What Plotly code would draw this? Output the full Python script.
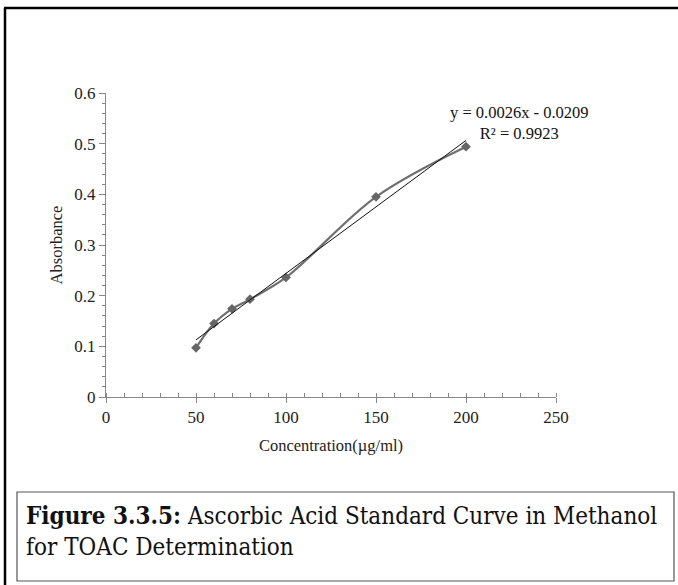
import numpy as np
import plotly.graph_objects as go

conc = [50, 60, 70, 80, 100, 150, 200]
absorb = [0.097, 0.145, 0.174, 0.193, 0.236, 0.395, 0.494]
eq_text = "y = 0.0026x - 0.0209<br>R² = 0.9923"
x_title = "Concentration(µg/ml)"
y_title = "Absorbance"
caption = "<b>Figure 3.3.5:</b> Ascorbic Acid Standard Curve in Methanol<br>for TOAC Determination"

W, H = 678, 585
L, R, T, B = 106, 556, 93, 397

def px(x):
    return (x - L) / (R - L)

def py(y):
    return (B - y) / (B - T)

slope, intercept = np.polyfit(conc, absorb, 1)
fit_x = [min(conc), max(conc)]
fit_y = [slope * v + intercept for v in fit_x]

fig = go.Figure()
fig.add_trace(go.Scatter(
    x=conc, y=absorb, mode="lines+markers",
    line=dict(color="#6f6f6f", width=2.2, shape="spline", smoothing=1.0),
    marker=dict(symbol="diamond", size=7.5, color="#666666"),
    showlegend=False, hoverinfo="skip"))
fig.add_trace(go.Scatter(
    x=fit_x, y=fit_y, mode="lines",
    line=dict(color="#111111", width=1),
    showlegend=False, hoverinfo="skip"))

font_serif = "Liberation Serif, Times New Roman, serif"

fig.update_layout(
    width=W, height=H,
    margin=dict(l=L, r=W - R, t=T, b=H - B),
    paper_bgcolor="white", plot_bgcolor="white",
    font=dict(family=font_serif, size=16, color="#222"),
    xaxis=dict(range=[0, 250], tickvals=[0, 50, 100, 150, 200, 250],
               showgrid=False, zeroline=False, showline=True,
               linecolor="#888", linewidth=1, ticks="outside", ticklen=5,
               tickcolor="#888",
               minor=dict(dtick=10, ticks="inside", ticklen=4, tickcolor="#888", showgrid=False),
               title=dict(text=x_title, font=dict(size=16.5), standoff=13),
               tickfont=dict(size=17), fixedrange=True),
    yaxis=dict(range=[0, 0.6], tickvals=[0, 0.1, 0.2, 0.3, 0.4, 0.5, 0.6],
               ticktext=["0", "0.1", "0.2", "0.3", "0.4", "0.5", "0.6"],
               showgrid=False, zeroline=False, showline=True,
               linecolor="#888", linewidth=1, ticks="outside", ticklen=6,
               tickcolor="#888",
               minor=dict(dtick=0.02, ticks="outside", ticklen=3, tickcolor="#888", showgrid=False),
               title=dict(text=y_title, font=dict(size=16.5), standoff=7),
               tickfont=dict(size=17), fixedrange=True),
)

fig.add_annotation(x=px(519), y=py(123), xref="paper", yref="paper",
                   xanchor="center", yanchor="middle",
                   text=eq_text, showarrow=False, align="center",
                   font=dict(family=font_serif, size=16.5, color="#111"))

# outer frame (left and top thick lines)
fig.add_shape(type="line", xref="paper", yref="paper",
              x0=px(5), x1=px(5), y0=py(8), y1=py(590),
              line=dict(color="black", width=2.5))
fig.add_shape(type="line", xref="paper", yref="paper",
              x0=px(4), x1=px(690), y0=py(8), y1=py(8),
              line=dict(color="black", width=2.5))
# caption box
fig.add_shape(type="rect", xref="paper", yref="paper",
              x0=px(17), x1=px(674), y0=py(492), y1=py(581),
              line=dict(color="#555", width=1.2))
fig.add_annotation(x=px(24), y=py(531), xref="paper", yref="paper",
                   xanchor="left", yanchor="middle",
                   text=caption, showarrow=False, align="left",
                   font=dict(family="DejaVu Serif Condensed, DejaVu Serif, serif", size=24, color="#111"))

fig.write_html("out.html", config=dict(displayModeBar=False))
